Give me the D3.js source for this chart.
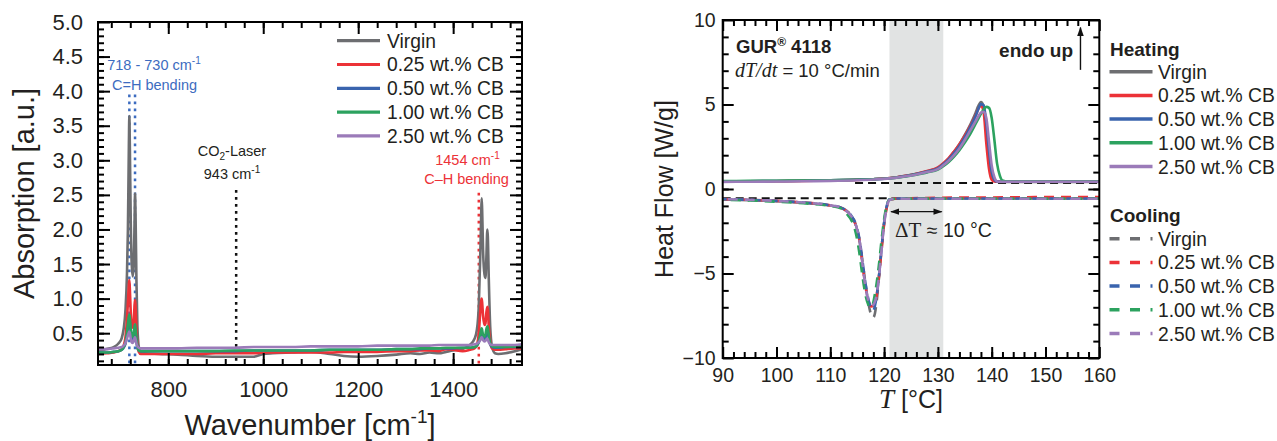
<!DOCTYPE html>
<html>
<head>
<meta charset="utf-8">
<script src="https://cdn.jsdelivr.net/npm/d3@7"></script>
<style>
  body { margin: 0; background: #fff; }
  svg { display: block; font-family: "Liberation Sans", Arial, sans-serif; }
</style>
</head>
<body>
<svg id="fig" width="1277" height="441"></svg>
<script>
// ---------- FTIR spectra ----------
const wavenumber = [652, 670, 685, 695, 702, 706, 710, 713, 715, 717,
  718, 719, 721, 723, 725, 727, 729, 730, 731, 733,
  735, 738, 742, 750, 780, 820, 860, 900, 940, 980,
  1000, 1020, 1060, 1100, 1140, 1170, 1200, 1240, 1280, 1310,
  1330, 1350, 1370, 1385, 1400, 1420, 1435, 1445, 1450, 1454,
  1457, 1459, 1460, 1461, 1463, 1466, 1468, 1470, 1472, 1473,
  1475, 1478, 1482, 1488, 1495, 1510, 1530, 1545];

const absVirgin = [0.24, 0.27, 0.30, 0.35, 0.43, 0.56, 0.85, 1.35, 2.0, 3.2,
  3.64, 3.25, 2.1, 1.5, 1.32, 1.45, 2.1, 2.52, 2.25, 1.25,
  0.6, 0.3, 0.23, 0.21, 0.2, 0.19, 0.17, 0.16, 0.16, 0.16,
  0.2, 0.21, 0.22, 0.23, 0.2, 0.17, 0.16, 0.17, 0.19, 0.21,
  0.2, 0.22, 0.21, 0.23, 0.25, 0.27, 0.33, 0.42, 0.55, 0.9,
  1.6, 2.2, 2.45, 2.3, 1.7, 1.35, 1.3, 1.6, 2.0, 1.9,
  1.3, 0.6, 0.3, 0.21, 0.2, 0.21, 0.24, 0.27];

const absCB025 = [0.20, 0.21, 0.22, 0.24, 0.27, 0.32, 0.45, 0.7, 0.95, 1.2,
  1.27, 1.15, 0.8, 0.62, 0.58, 0.66, 0.9, 0.98, 0.9, 0.55,
  0.32, 0.23, 0.2, 0.2, 0.2, 0.2, 0.2, 0.21, 0.21, 0.21,
  0.22, 0.22, 0.22, 0.22, 0.22, 0.23, 0.23, 0.23, 0.24, 0.24,
  0.25, 0.25, 0.24, 0.27, 0.26, 0.24, 0.26, 0.28, 0.33, 0.5,
  0.8, 0.97, 1.0, 0.95, 0.75, 0.62, 0.64, 0.8, 0.88, 0.85,
  0.6, 0.38, 0.28, 0.26, 0.26, 0.27, 0.28, 0.28];

const absCB050 = [0.22, 0.22, 0.23, 0.24, 0.26, 0.29, 0.35, 0.47, 0.58, 0.67,
  0.7, 0.66, 0.5, 0.43, 0.42, 0.47, 0.55, 0.57, 0.53, 0.4,
  0.29, 0.25, 0.24, 0.24, 0.24, 0.24, 0.24, 0.24, 0.24, 0.25,
  0.25, 0.25, 0.25, 0.25, 0.26, 0.26, 0.26, 0.26, 0.27, 0.27,
  0.27, 0.28, 0.28, 0.28, 0.28, 0.29, 0.29, 0.3, 0.32, 0.37,
  0.44, 0.5, 0.52, 0.5, 0.44, 0.41, 0.43, 0.5, 0.53, 0.52,
  0.43, 0.34, 0.3, 0.29, 0.29, 0.3, 0.3, 0.3];

const absCB100 = [0.22, 0.22, 0.23, 0.24, 0.26, 0.3, 0.37, 0.5, 0.63, 0.74,
  0.77, 0.72, 0.55, 0.46, 0.45, 0.5, 0.6, 0.63, 0.58, 0.42,
  0.3, 0.25, 0.24, 0.24, 0.24, 0.24, 0.24, 0.24, 0.25, 0.25,
  0.25, 0.25, 0.25, 0.25, 0.26, 0.26, 0.26, 0.26, 0.27, 0.27,
  0.28, 0.28, 0.28, 0.29, 0.29, 0.29, 0.29, 0.3, 0.32, 0.38,
  0.48, 0.55, 0.57, 0.55, 0.47, 0.45, 0.48, 0.56, 0.6, 0.58,
  0.47, 0.36, 0.31, 0.3, 0.3, 0.3, 0.31, 0.31];

const absCB250 = [0.27, 0.27, 0.28, 0.29, 0.3, 0.32, 0.36, 0.42, 0.47, 0.51,
  0.52, 0.5, 0.42, 0.37, 0.36, 0.39, 0.43, 0.44, 0.42, 0.35,
  0.31, 0.29, 0.28, 0.28, 0.28, 0.28, 0.29, 0.29, 0.29, 0.3,
  0.3, 0.3, 0.3, 0.31, 0.31, 0.31, 0.31, 0.32, 0.32, 0.32,
  0.32, 0.32, 0.33, 0.33, 0.33, 0.33, 0.33, 0.34, 0.35, 0.37,
  0.4, 0.43, 0.44, 0.43, 0.4, 0.38, 0.39, 0.41, 0.42, 0.41,
  0.37, 0.34, 0.33, 0.33, 0.33, 0.33, 0.33, 0.34];

// ---------- DSC heating / cooling ----------
const heatT = [90, 95, 100, 105, 110, 115, 118, 120, 122, 124, 126, 128, 130, 131, 132, 133, 134, 135, 136,
  137, 137.5, 138, 138.5, 139, 139.5, 140, 140.5, 141, 141.5, 142, 143, 145, 150, 155, 160];

const heatVirgin = [0.45, 0.46, 0.47, 0.49, 0.51, 0.55, 0.58, 0.62, 0.68, 0.78, 0.9, 1.05, 1.25, 1.5, 1.8, 2.2, 2.65, 3.2, 3.8,
  4.5, 4.9, 5.15, 4.9, 3.4, 1.9, 0.85, 0.5, 0.43, 0.42, 0.42, 0.42, 0.42, 0.42, 0.42, 0.42];
const heatCB025 = [0.44, 0.45, 0.46, 0.48, 0.5, 0.54, 0.58, 0.62, 0.68, 0.78, 0.9, 1.06, 1.28, 1.53, 1.83, 2.22, 2.65, 3.15, 3.72,
  4.35, 4.72, 4.95, 4.55, 2.7, 1.2, 0.55, 0.44, 0.43, 0.43, 0.43, 0.43, 0.43, 0.43, 0.43, 0.43];
const heatCB050 = [0.45, 0.46, 0.47, 0.49, 0.51, 0.55, 0.58, 0.61, 0.67, 0.76, 0.88, 1.03, 1.22, 1.46, 1.75, 2.12, 2.55, 3.05, 3.65,
  4.3, 4.72, 5.02, 4.95, 3.9, 2.3, 1.0, 0.55, 0.44, 0.43, 0.43, 0.43, 0.43, 0.43, 0.43, 0.43];
const heatCB100 = [0.47, 0.48, 0.49, 0.5, 0.52, 0.55, 0.58, 0.61, 0.66, 0.74, 0.85, 0.98, 1.15, 1.35, 1.6, 1.92, 2.3, 2.75, 3.25,
  3.85, 4.15, 4.45, 4.72, 4.86, 4.8, 4.2, 2.9, 1.5, 0.8, 0.5, 0.44, 0.44, 0.44, 0.44, 0.44];
const heatCB250 = [0.42, 0.43, 0.44, 0.46, 0.48, 0.52, 0.56, 0.6, 0.66, 0.75, 0.86, 1.0, 1.17, 1.4, 1.67, 2.0, 2.4, 2.9, 3.45,
  4.0, 4.3, 4.52, 4.57, 4.2, 2.8, 1.4, 0.7, 0.45, 0.43, 0.43, 0.43, 0.43, 0.43, 0.43, 0.43];

const coolT = [90, 95, 100, 105, 108, 110, 112, 113, 114, 114.5, 115, 115.5, 116, 116.5, 117, 117.3, 117.6, 118,
  118.3, 118.6, 119, 119.5, 120, 120.5, 121, 122, 125, 130, 140, 150, 160];

const coolVirgin = [-0.62, -0.66, -0.72, -0.82, -0.9, -0.98, -1.12, -1.28, -1.6, -1.9, -2.4, -3.2, -4.3, -5.5, -6.6, -7.1, -7.45, -7.6,
  -7.35, -6.7, -5.4, -3.6, -2.0, -1.05, -0.65, -0.57, -0.56, -0.56, -0.56, -0.56, -0.56];
const coolCB025 = [-0.6, -0.64, -0.7, -0.8, -0.88, -0.97, -1.1, -1.3, -1.65, -1.95, -2.4, -3.2, -4.5, -5.7, -6.5, -6.8, -6.95, -6.9,
  -6.7, -6.3, -5.3, -3.7, -2.1, -1.1, -0.65, -0.57, -0.55, -0.52, -0.5, -0.48, -0.48];
const coolCB050 = [-0.6, -0.64, -0.7, -0.8, -0.88, -0.97, -1.1, -1.28, -1.62, -1.9, -2.35, -3.1, -4.3, -5.5, -6.4, -6.8, -7.1, -7.2,
  -6.9, -6.4, -5.3, -3.6, -2.0, -1.0, -0.6, -0.56, -0.56, -0.56, -0.56, -0.56, -0.56];
const coolCB100 = [-0.64, -0.68, -0.75, -0.84, -0.92, -1.0, -1.15, -1.45, -1.9, -2.3, -3.0, -4.0, -5.2, -6.2, -6.8, -7.0, -6.95, -6.7,
  -6.2, -5.6, -4.6, -3.1, -1.8, -0.95, -0.62, -0.58, -0.57, -0.57, -0.57, -0.57, -0.57];
const coolCB250 = [-0.6, -0.64, -0.7, -0.8, -0.88, -0.97, -1.1, -1.3, -1.65, -1.95, -2.4, -3.2, -4.5, -5.7, -6.5, -6.8, -6.9, -6.85,
  -6.65, -6.3, -5.3, -3.7, -2.1, -1.1, -0.65, -0.58, -0.58, -0.58, -0.58, -0.58, -0.58];

// ---------- labels, colours, ticks ----------
const sampleNames = ["Virgin", "0.25 wt.% CB", "0.50 wt.% CB", "1.00 wt.% CB", "2.50 wt.% CB"];
const sampleColors = ["#6d6e71", "#ec3237", "#3a64ae", "#2ca25f", "#9b7bb9"];

const irXMajor = [800, 1000, 1200, 1400];
const irYMajor = [0.5, 1.0, 1.5, 2.0, 2.5, 3.0, 3.5, 4.0, 4.5, 5.0];
const dscXMajor = [90, 100, 110, 120, 130, 140, 150, 160];
const dscYMajor = [-10, -5, 0, 5, 10];

const peakLines = [718, 730];
const laserLine = 943;
const ch2Line = 1454;
const meltWindow = [121, 131];
const heatBaseline = 0.35;
const coolBaseline = -0.55;

const TEXT = "#231f20";
const svg = d3.select("#fig");

// Box with inward ticks on all four sides
function drawFrame(x, y, o) {
  const [x0, x1] = x.range();
  const [y0, y1] = y.range(); // y0 = bottom, y1 = top
  const g = svg.append("g");
  const add = (axis, tx, ty) => {
    const a = g.append("g").attr("transform", `translate(${tx},${ty})`).call(axis);
    a.select(".domain").remove();
    a.selectAll("line").attr("stroke", "#000").attr("stroke-width", 2);
    a.selectAll("text").attr("fill", TEXT).attr("font-size", o.fontSize)
      .attr("font-family", '"Liberation Sans", Arial, sans-serif');
    return a;
  };
  add(d3.axisBottom(x).tickValues(o.xMinor).tickSize(-o.minor).tickFormat(""), 0, y0);
  add(d3.axisBottom(x).tickValues(o.xMajor).tickSize(-o.major).tickPadding(o.xPad).tickFormat(o.xFmt), 0, y0);
  add(d3.axisTop(x).tickValues(o.xMinor).tickSize(-o.minor).tickFormat(""), 0, y1);
  add(d3.axisTop(x).tickValues(o.xMajor).tickSize(-o.major).tickFormat(""), 0, y1);
  add(d3.axisLeft(y).tickValues(o.yMinor).tickSize(-o.minor).tickFormat(""), x0, 0);
  add(d3.axisLeft(y).tickValues(o.yMajor).tickSize(-o.major).tickPadding(o.yPad).tickFormat(o.yFmt), x0, 0);
  add(d3.axisRight(y).tickValues(o.yMinor).tickSize(-o.minor).tickFormat(""), x1, 0);
  add(d3.axisRight(y).tickValues(o.yMajor).tickSize(-o.major).tickFormat(""), x1, 0);
  g.append("rect").attr("x", x0).attr("y", y1).attr("width", x1 - x0).attr("height", y0 - y1)
    .attr("fill", "none").attr("stroke", "#000").attr("stroke-width", 2);
}

function clipFor(id, x, y) {
  const [x0, x1] = x.range();
  const [y0, y1] = y.range();
  svg.append("clipPath").attr("id", id).append("rect")
    .attr("x", x0).attr("y", y1).attr("width", x1 - x0).attr("height", y0 - y1);
  return `url(#${id})`;
}

// =================== Left panel: FTIR ===================
const irX = d3.scaleLinear().domain([652, 1545]).range([98, 522]);
const irY = d3.scaleLinear().domain([0.04, 5.0]).range([365, 22]);
const irClip = clipFor("ir-clip", irX, irY);

// marker lines at characteristic wavenumbers
const irMarks = svg.append("g").attr("clip-path", irClip);
peakLines.forEach(v => irMarks.append("line")
  .attr("x1", irX(v)).attr("x2", irX(v)).attr("y1", irY(3.95)).attr("y2", irY(0.04))
  .attr("stroke", "#3d6cc0").attr("stroke-width", 2.5).attr("stroke-dasharray", "2.6,4.4"));
irMarks.append("line")
  .attr("x1", irX(laserLine)).attr("x2", irX(laserLine)).attr("y1", irY(2.57)).attr("y2", irY(0.04))
  .attr("stroke", "#111").attr("stroke-width", 2.5).attr("stroke-dasharray", "2.6,4.4");
irMarks.append("line")
  .attr("x1", irX(ch2Line)).attr("x2", irX(ch2Line)).attr("y1", irY(2.53)).attr("y2", irY(0.04))
  .attr("stroke", "#ec3237").attr("stroke-width", 2.5).attr("stroke-dasharray", "2.6,4.4");

const irSeries = [absVirgin, absCB025, absCB050, absCB100, absCB250];
const irLine = d3.line().x((d, i) => irX(wavenumber[i])).y(d => irY(d)).curve(d3.curveMonotoneX);
const irLines = svg.append("g").attr("clip-path", irClip);
irSeries.forEach((vals, k) => irLines.append("path")
  .attr("d", irLine(vals)).attr("fill", "none")
  .attr("stroke", sampleColors[k]).attr("stroke-width", 2.6).attr("stroke-linejoin", "round"));

drawFrame(irX, irY, {
  xMajor: irXMajor, xMinor: d3.range(680, 1545, 40), yMajor: irYMajor, yMinor: d3.range(1, 50).map(d => d / 10),
  major: 12, minor: 6, xPad: 16, yPad: 15, fontSize: 22,
  xFmt: d3.format("d"), yFmt: d3.format(".1f")
});

// annotations
function annot(x, y, color, size) {
  return svg.append("text").attr("x", x).attr("y", y).attr("text-anchor", "middle")
    .attr("fill", color).attr("font-size", size);
}
let t = annot(154, 70, "#3d6cc0", 14.5);
t.append("tspan").text("718 - 730 cm");
t.append("tspan").attr("dy", -6).attr("font-size", 10).text("-1");
annot(154.5, 90, "#3d6cc0", 14.5).text("C=H bending");

t = annot(232, 156, TEXT, 14.5);
t.append("tspan").text("CO");
t.append("tspan").attr("dy", 4).attr("font-size", 10).text("2");
t.append("tspan").attr("dy", -4).text("-Laser");
t = annot(232, 179, TEXT, 14.5);
t.append("tspan").text("943 cm");
t.append("tspan").attr("dy", -6).attr("font-size", 10).text("-1");

t = annot(467.5, 165, "#ec3237", 14.5);
t.append("tspan").text("1454 cm");
t.append("tspan").attr("dy", -6).attr("font-size", 10).text("-1");
annot(466.5, 183.5, "#ec3237", 14.5).text("C\u2013H bending");

// legend
const irLeg = svg.append("g");
sampleNames.forEach((name, k) => {
  const ly = 40.7 + k * 23.8;
  irLeg.append("line").attr("x1", 337).attr("x2", 380).attr("y1", ly).attr("y2", ly)
    .attr("stroke", sampleColors[k]).attr("stroke-width", 3.2);
  irLeg.append("text").attr("x", 387).attr("y", ly + 6.8).attr("font-size", 19.3)
    .attr("fill", TEXT).text(name);
});

// axis titles
svg.append("text").attr("transform", "translate(34,193.5) rotate(-90)")
  .attr("text-anchor", "middle").attr("font-size", 29).attr("fill", TEXT).text("Absorption [a.u.]");
t = svg.append("text").attr("x", 310).attr("y", 435).attr("text-anchor", "middle")
  .attr("font-size", 29).attr("fill", TEXT);
t.append("tspan").text("Wavenumber [cm");
t.append("tspan").attr("dy", -12).attr("font-size", 19).text("-1");
t.append("tspan").attr("dy", 12).text("]");

// =================== Right panel: DSC ===================
const dscX = d3.scaleLinear().domain([90, 160]).range([722.7, 1099.3]);
const dscY = d3.scaleLinear().domain([-10, 10]).range([358, 20]);
const dscClip = clipFor("dsc-clip", dscX, dscY);

// shaded window between crystallisation onset and melting onset
svg.append("rect")
  .attr("x", dscX(meltWindow[0])).attr("width", dscX(meltWindow[1]) - dscX(meltWindow[0]))
  .attr("y", dscY(10)).attr("height", dscY(-10) - dscY(10))
  .attr("fill", "#e1e3e3");

const dscG = svg.append("g").attr("clip-path", dscClip);
// reference baselines
dscG.append("line").attr("x1", dscX(114.6)).attr("x2", dscX(160))
  .attr("y1", dscY(heatBaseline)).attr("y2", dscY(heatBaseline))
  .attr("stroke", "#111").attr("stroke-width", 2).attr("stroke-dasharray", "8,5");
dscG.append("line").attr("x1", dscX(90)).attr("x2", dscX(160))
  .attr("y1", dscY(coolBaseline)).attr("y2", dscY(coolBaseline))
  .attr("stroke", "#111").attr("stroke-width", 2).attr("stroke-dasharray", "8,5");

const heatSeries = [heatVirgin, heatCB025, heatCB050, heatCB100, heatCB250];
const coolSeries = [coolVirgin, coolCB025, coolCB050, coolCB100, coolCB250];
const heatLine = d3.line().x((d, i) => dscX(heatT[i])).y(d => dscY(d)).curve(d3.curveMonotoneX);
const coolLine = d3.line().x((d, i) => dscX(coolT[i])).y(d => dscY(d)).curve(d3.curveMonotoneX);

coolSeries.forEach((vals, k) => dscG.append("path")
  .attr("d", coolLine(vals)).attr("fill", "none")
  .attr("stroke", sampleColors[k]).attr("stroke-width", 2.6)
  .attr("stroke-dasharray", "10,7").attr("stroke-dashoffset", k * 3));
heatSeries.forEach((vals, k) => dscG.append("path")
  .attr("d", heatLine(vals)).attr("fill", "none")
  .attr("stroke", sampleColors[k]).attr("stroke-width", 2.6).attr("stroke-linejoin", "round"));

drawFrame(dscX, dscY, {
  xMajor: dscXMajor, xMinor: d3.range(92, 160, 2), yMajor: dscYMajor, yMinor: d3.range(-9, 10, 1),
  major: 11, minor: 6, xPad: 10, yPad: 7, fontSize: 19.5,
  xFmt: d3.format("d"), yFmt: d3.format("d")
});

// double arrow marking the temperature gap
const defs = svg.append("defs");
defs.append("marker").attr("id", "ah").attr("viewBox", "0 0 10 10").attr("refX", 9).attr("refY", 5)
  .attr("markerWidth", 7).attr("markerHeight", 7).attr("orient", "auto-start-reverse")
  .append("path").attr("d", "M0,1.5 L10,5 L0,8.5 Z").attr("fill", "#111");
svg.append("line").attr("x1", dscX(121.3)).attr("x2", dscX(130.7))
  .attr("y1", dscY(-1.34)).attr("y2", dscY(-1.34))
  .attr("stroke", "#111").attr("stroke-width", 1.3)
  .attr("marker-start", "url(#ah)").attr("marker-end", "url(#ah)");
t = svg.append("text").attr("x", 895).attr("y", 237).attr("fill", TEXT).attr("font-size", 19.5);
t.append("tspan").attr("font-family", '"Liberation Serif", "Times New Roman", serif').attr("font-size", 21).text("\u0394T");
t.append("tspan").text(" \u2248 10 \u00B0C");

// endo arrow
svg.append("line").attr("x1", dscX(156.5)).attr("x2", dscX(156.5))
  .attr("y1", dscY(7.05)).attr("y2", dscY(9.55))
  .attr("stroke", "#111").attr("stroke-width", 1.4).attr("marker-end", "url(#ah)");
svg.append("text").attr("x", 1073).attr("y", 57).attr("text-anchor", "end")
  .attr("font-weight", "bold").attr("font-size", 19).attr("fill", TEXT).text("endo up");

// sample info
t = svg.append("text").attr("x", 736).attr("y", 53).attr("font-weight", "bold")
  .attr("font-size", 18.5).attr("fill", TEXT);
t.append("tspan").text("GUR");
t.append("tspan").attr("dy", -7).attr("font-size", 12).text("\u00AE");
t.append("tspan").attr("dy", 7).text(" 4118");
t = svg.append("text").attr("x", 735).attr("y", 77).attr("font-size", 18.5).attr("fill", TEXT);
t.append("tspan").attr("font-family", '"Liberation Serif", "Times New Roman", serif')
  .attr("font-style", "italic").attr("font-size", 20).text("dT/dt");
t.append("tspan").text(" = 10 \u00B0C/min");

// legends
function dscLegend(title, titleY, rowY, dashed) {
  svg.append("text").attr("x", 1110).attr("y", titleY).attr("font-weight", "bold")
    .attr("font-size", 19).attr("fill", TEXT).text(title);
  sampleNames.forEach((name, k) => {
    const ly = rowY + k * 23.7;
    const ln = svg.append("line").attr("x1", 1109.5).attr("x2", 1152.5).attr("y1", ly).attr("y2", ly)
      .attr("stroke", sampleColors[k]).attr("stroke-width", 3.5);
    if (dashed) ln.attr("stroke-dasharray", "10,10.5");
    svg.append("text").attr("x", 1158).attr("y", ly + 7).attr("font-size", 19.3)
      .attr("fill", TEXT).text(name);
  });
}
dscLegend("Heating", 56, 71.7, false);
dscLegend("Cooling", 222, 238.7, true);

// axis titles
svg.append("text").attr("transform", "translate(673,189) rotate(-90)")
  .attr("text-anchor", "middle").attr("font-size", 25).attr("fill", TEXT).text("Heat Flow [W/g]");
t = svg.append("text").attr("x", 911).attr("y", 408).attr("text-anchor", "middle")
  .attr("font-size", 25).attr("fill", TEXT);
t.append("tspan").attr("font-family", '"Liberation Serif", "Times New Roman", serif')
  .attr("font-style", "italic").attr("font-size", 27).text("T");
t.append("tspan").text(" [\u00B0C]");
</script>
</body>
</html>
